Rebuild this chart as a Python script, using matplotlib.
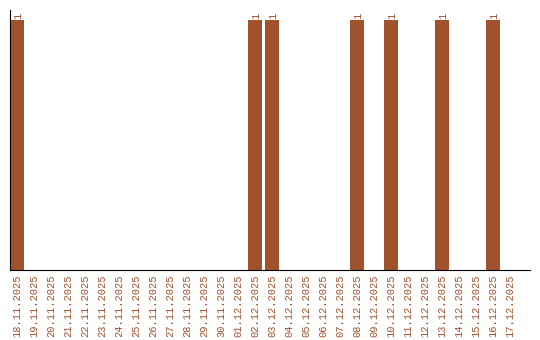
import matplotlib
matplotlib.use("Agg")
import matplotlib.pyplot as plt
import numpy as np

# one bar per day, 18.11.2025 - 17.12.2025
dates = ["18.11.2025", "19.11.2025", "20.11.2025", "21.11.2025", "22.11.2025",
         "23.11.2025", "24.11.2025", "25.11.2025", "26.11.2025", "27.11.2025",
         "28.11.2025", "29.11.2025", "30.11.2025", "01.12.2025", "02.12.2025",
         "03.12.2025", "04.12.2025", "05.12.2025", "06.12.2025", "07.12.2025",
         "08.12.2025", "09.12.2025", "10.12.2025", "11.12.2025", "12.12.2025",
         "13.12.2025", "14.12.2025", "15.12.2025", "16.12.2025", "17.12.2025"]
counts = [1, 0, 0, 0, 0, 0, 0, 0, 0, 0,
          0, 0, 0, 0, 1, 1, 0, 0, 0, 0,
          1, 0, 1, 0, 0, 1, 0, 0, 1, 0]

bar_color = "#A0522D"
text_color = "#A0522D"
mono = ["Liberation Mono", "DejaVu Sans Mono"]

fig = plt.figure(figsize=(5.4, 3.4), dpi=100)
ax = fig.add_axes([10/540, 70/340, 520/540, 260/340])

x = np.arange(len(dates))
ax.bar(x, counts, width=0.82, color=bar_color)

for xi, c in zip(x, counts):
    if c > 0:
        ax.text(xi + 0.05, c + 0.004, str(c), rotation=90, ha="center", va="bottom",
                color=text_color, fontsize=7.5, family=mono)

ax.set_xlim(-0.41, -0.41 + 520/17)
ax.set_ylim(0, 1.04)
ax.set_xticks(x)
ax.set_xticklabels(dates, rotation=90, color=text_color, fontsize=7.5, family=mono)
ax.set_yticks([])
ax.tick_params(axis="x", length=0, pad=3)

for side in ["top", "right"]:
    ax.spines[side].set_visible(False)
ax.spines["left"].set_color("black")
ax.spines["bottom"].set_color("black")

fig.savefig("out.png", dpi=100)
